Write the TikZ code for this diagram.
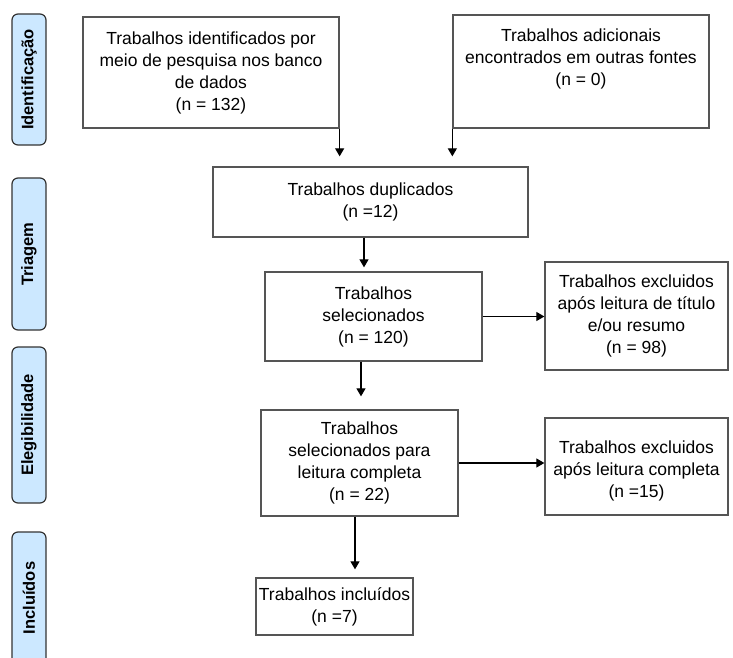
\documentclass[tikz,border=0pt]{standalone}
\usepackage{fontspec}
\setmainfont{Liberation Sans}
\usetikzlibrary{arrows.meta}
\definecolor{sidefill}{HTML}{CCE8FF}
\definecolor{boxline}{HTML}{555555}
\definecolor{sideline}{HTML}{333333}
\tikzset{
  box/.style={draw=boxline, line width=1.3pt, fill=white, inner sep=0pt, align=center, font=\fontsize{17.5}{22}\selectfont},
  txt/.style={inner sep=0pt, align=center, font=\fontsize{17.5}{22}\selectfont},
  side/.style={draw=sideline, line width=1.2pt, fill=sidefill, rounded corners=6pt, rotate=90, inner sep=0pt, font=\fontsize{16.5}{20}\selectfont\bfseries},
  arr/.style={line width=1.2pt, -{Triangle[length=8pt,width=9pt]}}
}
\begin{document}
\begin{tikzpicture}[x=1pt,y=-1pt]
\useasboundingbox (0,0) rectangle (733,658);
% side labels
\node[side, minimum width=131pt, minimum height=34pt] (s1) at (29,79.5) {Identificação};
\node[side, minimum width=152pt, minimum height=34pt] (s2) at (29,254) {Triagem};
\node[side, minimum width=156pt, minimum height=34pt] (s3) at (29,425) {Elegibilidade};
\node[side, minimum width=132pt, minimum height=34pt] (s4) at (29,598) {Incluídos};
% boxes
\node[box, minimum width=256pt, minimum height=111pt] (b1) at (211,72.5)
  {Trabalhos identificados por\\meio de pesquisa nos banco\\de dados\\(n = 132)};
\node[box, minimum width=256pt, minimum height=113pt] (b2) at (581,71.5) {};
\node[txt, anchor=north] (b2t) at ([yshift=-14pt]b2.north)
  {Trabalhos adicionais\\encontrados em outras fontes\\(n = 0)};
\node[box, minimum width=315pt, minimum height=70pt] (b3) at (370.5,202)
  {Trabalhos duplicados\\(n =12)};
\node[box, minimum width=217pt, minimum height=89pt] (b4) at (373.5,316.5)
  {Trabalhos\\selecionados\\(n = 120)};
\node[box, minimum width=183pt, minimum height=108pt] (b5) at (636.5,316)
  {Trabalhos excluidos\\após leitura de título\\e/ou resumo\\(n = 98)};
\node[box, minimum width=197pt, minimum height=106pt] (b6) at (359.5,463)
  {Trabalhos\\selecionados para\\leitura completa\\(n = 22)};
\node[box, minimum width=183pt, minimum height=97pt] (b7) at (636.5,466.5) {};
\node[txt] (b7t) at ([yshift=-4pt]b7.center)
  {Trabalhos excluidos\\após leitura completa\\(n =15)};
\node[box, minimum width=157pt, minimum height=57pt] (b8) at (334.5,606.5)
  {Trabalhos incluídos\\(n =7)};
% connectors
\draw[arr, shorten >=10pt] (b1.south east) -- (b1.south east |- b3.north);
\draw[arr, shorten >=10pt] (b2.south west) -- (b2.south west |- b3.north);
\draw[arr, shorten >=4pt] ([xshift=-6.5pt]b3.south) -- ([xshift=-6.5pt]b3.south |- b4.north);
\draw[arr, shorten >=13pt] ([xshift=-12.5pt]b4.south) -- ([xshift=-12.5pt]b4.south |- b6.north);
\draw[arr] (b4.east) -- (b4.east -| b5.west);
\draw[arr] (b6.east) -- (b6.east -| b7.west);
\draw[arr, shorten >=8pt] ([xshift=-4.5pt]b6.south) -- ([xshift=-4.5pt]b6.south |- b8.north);
\end{tikzpicture}
\end{document}
